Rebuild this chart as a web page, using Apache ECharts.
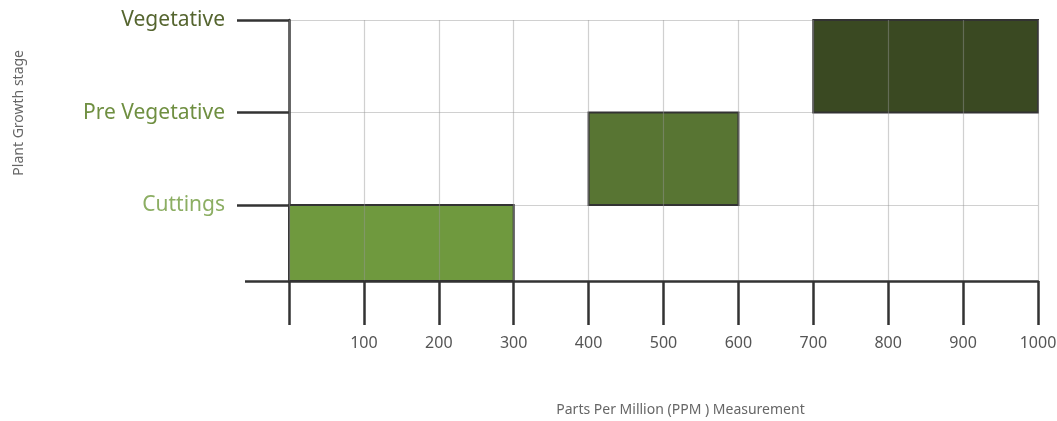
<!DOCTYPE html>
<html>
<head>
<meta charset="utf-8">
<script src="https://cdn.jsdelivr.net/npm/echarts@6/dist/echarts.min.js"></script>
<style>html,body{margin:0;padding:0;background:#fff}#c{width:1057px;height:421px}</style>
</head>
<body>
<div id="c"></div>
<script>
// Data
const stages = ['Cuttings', 'Pre Vegetative', 'Vegetative'];
const stageLevels = [1, 2, 3];
const ppmStart = [0, 400, 700];
const ppmEnd = [300, 600, 1000];
const xTicks = [100, 200, 300, 400, 500, 600, 700, 800, 900, 1000];
const barColors = ['#6f993e', '#587533', '#3a4922'];
const labelColors = ['#8cae63', '#6f8f41', '#55652f'];

const yMin = 0.18, yMax = 3;
const font = 'Noto Sans';

const chart = echarts.init(document.getElementById('c'), null, {renderer: 'canvas'});

const rich = {};
stages.forEach((s, i) => { rich['s' + i] = {color: labelColors[i], fontSize: 21, fontFamily: font, letterSpacing: 0.6}; });

const seriesData = stages.map((s, i) => [ppmStart[i], ppmEnd[i], i === 0 ? yMin : stageLevels[i - 1], stageLevels[i], i]);

chart.setOption({
  animation: false,
  grid: {left: 289, right: 19, top: 20, bottom: 140, outerBoundsMode: 'none', containLabel: false},
  xAxis: {
    type: 'value', min: 0, max: 1000, interval: 100, z: 3,
    axisLine: {show: true, lineStyle: {color: '#333', width: 2.5}},
    axisTick: {show: true, length: 44, lineStyle: {color: '#333', width: 2.5}},
    axisLabel: {
      margin: 54, color: '#555', fontSize: 16, fontFamily: font,
      customValues: xTicks,
      formatter: v => String(v)
    },
    splitLine: {show: true, lineStyle: {color: 'rgba(150,150,150,0.45)', width: 1.2}},
    name: 'Parts Per Million (PPM ) Measurement',
    nameLocation: 'middle', nameGap: 122,
    nameTextStyle: {color: '#666', fontSize: 14, fontFamily: font, letterSpacing: 0.8, padding: [0, 0, 0, 34]}
  },
  yAxis: [{
    type: 'value', min: yMin, max: yMax,
    axisLine: {show: true, lineStyle: {color: '#333', width: 2.5}},
    axisTick: {show: true, length: 52, customValues: stageLevels, lineStyle: {color: '#333', width: 2.5}},
    axisLabel: {
      margin: 64, customValues: stageLevels,
      formatter: v => { const i = stageLevels.indexOf(v); return i < 0 ? '' : '{s' + i + '|' + stages[i] + '}'; },
      rich: rich
    },
    splitLine: {show: true, lineStyle: {color: 'rgba(150,150,150,0.45)', width: 1.2}}
  }, {
    type: 'value', min: yMin, max: yMax, position: 'left', offset: 0,
    axisLine: {show: false},
    axisTick: {show: true, length: 44, customValues: [yMin], lineStyle: {color: '#333', width: 2.5}},
    axisLabel: {show: false},
    splitLine: {show: false}
  }],
  graphic: [{
    type: 'text', left: 12, top: 50,
    rotation: Math.PI / 2,
    style: {text: 'Plant Growth stage', fill: '#666', font: '14px "Noto Sans"', letterSpacing: 0.8}
  }],
  series: [{
    type: 'custom',
    z: 2,
    data: seriesData,
    encode: {x: [0, 1], y: [2, 3]},
    renderItem: (params, api) => {
      const p0 = api.coord([api.value(0), api.value(3)]);
      const p1 = api.coord([api.value(1), api.value(2)]);
      return {
        type: 'rect',
        shape: {x: p0[0], y: p0[1], width: p1[0] - p0[0], height: p1[1] - p0[1]},
        style: {fill: barColors[api.value(4)], stroke: '#333', lineWidth: 2}
      };
    }
  }]
});
</script>
</body>
</html>
